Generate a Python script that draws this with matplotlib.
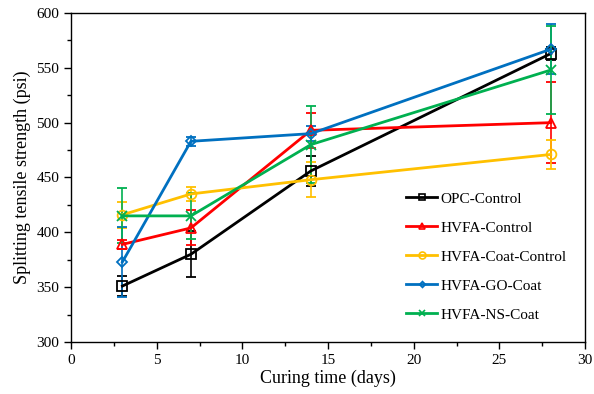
import matplotlib
matplotlib.use("Agg")
import matplotlib.pyplot as plt
from matplotlib.lines import Line2D
from matplotlib.ticker import MultipleLocator

plt.rcParams['font.family'] = ['Liberation Serif', 'DejaVu Serif']

days = [3, 7, 14, 28]

# series values (psi) and error bars
opc_control = [351, 380, 456, 563]
opc_control_err = [9, 21, 14, 6]
hvfa_control = [389, 404, 493, 500]
hvfa_control_err = [4, 16, 16, 37]
hvfa_coat_control = [416, 435, 448, 471]
hvfa_coat_control_err = [12, 6, 16, 13]
hvfa_go_coat = [373, 483, 490, 567]
hvfa_go_coat_err = [32, 4, 7, 23]
hvfa_ns_coat = [415, 415, 480, 548]
hvfa_ns_coat_err = [25, 21, 35, 40]

series = [
    ("OPC-Control", opc_control, opc_control_err, "#000000", "s"),
    ("HVFA-Control", hvfa_control, hvfa_control_err, "#FF0000", "^"),
    ("HVFA-Coat-Control", hvfa_coat_control, hvfa_coat_control_err, "#FFC000", "o"),
    ("HVFA-GO-Coat", hvfa_go_coat, hvfa_go_coat_err, "#0070C0", "D"),
    ("HVFA-NS-Coat", hvfa_ns_coat, hvfa_ns_coat_err, "#00B050", "x"),
]

fig = plt.figure(figsize=(5.94, 3.94), dpi=100)
ax = fig.add_axes([0.1195, 0.132, 0.8655, 0.835])

handles = []
for name, vals, err, col, mk in series:
    ms = 5 if mk == "D" else 7
    ax.errorbar(days, vals, yerr=err, color=col, ecolor=col, elinewidth=1.2,
                capsize=3.5, capthick=1.2, linewidth=2, marker=mk, markersize=ms,
                markerfacecolor="none", markeredgecolor=col, markeredgewidth=1.3)
    handles.append(Line2D([], [], color=col, linewidth=2, marker=mk,
                          markersize=ms - 2, markerfacecolor="none",
                          markeredgecolor=col, markeredgewidth=1.2, label=name))

ax.set_xlim(0, 30)
ax.set_ylim(300, 600)
ax.xaxis.set_major_locator(MultipleLocator(5))
ax.xaxis.set_minor_locator(MultipleLocator(2.5))
ax.yaxis.set_major_locator(MultipleLocator(50))
ax.yaxis.set_minor_locator(MultipleLocator(25))
ax.tick_params(which="both", direction="out", labelsize=11, width=1)
ax.tick_params(which="major", length=5)
ax.tick_params(which="minor", length=3)
for s in ax.spines.values():
    s.set_linewidth(1)

ax.set_xlabel("Curing time (days)", fontsize=13, labelpad=2)
ax.set_ylabel("Splitting tensile strength (psi)", fontsize=13)

ax.legend(handles=handles, loc="lower right", bbox_to_anchor=(0.99, 0.02),
          frameon=False, fontsize=11, handlelength=2.0, labelspacing=1.0,
          handletextpad=0.2)

fig.savefig("out.png", dpi=100)
